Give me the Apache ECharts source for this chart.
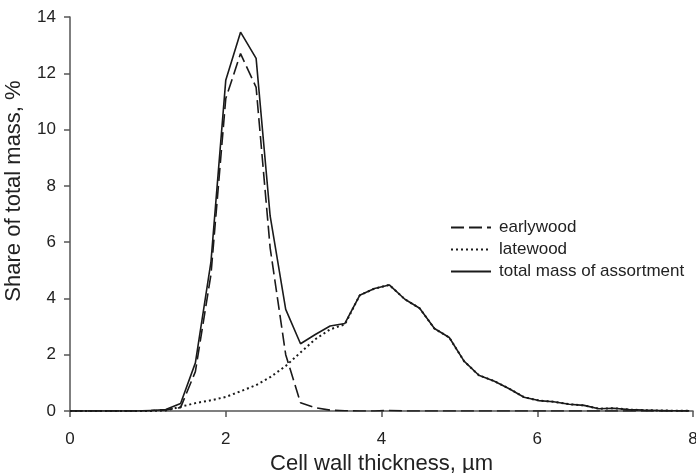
<!DOCTYPE html>
<html>
<head>
<meta charset="utf-8">
<script src="https://cdn.jsdelivr.net/npm/echarts@6/dist/echarts.min.js"></script>
<style>html,body{margin:0;padding:0;background:#fff}#c{width:696px;height:473px}</style>
</head>
<body>
<div id="c"></div>
<script>
const xs = [0, 0.85, 1.04, 1.23, 1.42, 1.61, 1.81, 2.00, 2.19, 2.39, 2.57, 2.77, 2.96, 3.15, 3.34, 3.53, 3.72, 3.91, 4.10, 4.30, 4.49, 4.68, 4.87, 5.06, 5.25, 5.45, 5.64, 5.83, 6.02, 6.21, 6.41, 6.60, 6.79, 6.98, 7.18, 7.37, 7.56, 7.75, 7.95];
const earlywood = [0, 0, 0.02, 0.04, 0.12, 1.4, 4.85, 11.1, 12.7, 11.5, 5.8, 2.0, 0.29, 0.12, 0.03, 0.01, 0, 0, 0.02, 0, 0, 0, 0, 0, 0, 0, 0, 0, 0, 0, 0, 0, 0, 0, 0, 0, 0, 0, 0];
const latewood = [0, 0, 0, 0.02, 0.15, 0.28, 0.38, 0.5, 0.7, 0.92, 1.2, 1.6, 2.08, 2.55, 2.9, 3.08, 4.11, 4.35, 4.48, 3.97, 3.65, 2.93, 2.61, 1.77, 1.27, 1.06, 0.79, 0.49, 0.37, 0.33, 0.24, 0.2, 0.08, 0.1, 0.05, 0.03, 0.02, 0.01, 0.01];
const total = [0, 0, 0.02, 0.05, 0.27, 1.71, 5.3, 11.75, 13.46, 12.53, 6.93, 3.61, 2.39, 2.72, 3.02, 3.11, 4.11, 4.35, 4.48, 3.97, 3.65, 2.93, 2.61, 1.77, 1.27, 1.06, 0.79, 0.49, 0.37, 0.33, 0.24, 0.2, 0.08, 0.1, 0.05, 0.03, 0.02, 0.01, 0.01];
const names = ['earlywood', 'latewood', 'total mass of assortment'];

const pair = arr => xs.map((x, i) => [x, arr[i]]);
const font = 'Liberation Sans, Arial, sans-serif';
const axisCol = '#555';
const lineCol = '#1a1a1a';

const chart = echarts.init(document.getElementById('c'));
chart.setOption({
  animation: false,
  backgroundColor: '#fff',
  grid: { left: 70, right: 3, top: 17, bottom: 62, containLabel: false, outerBoundsMode: 'none' },
  legend: {
    orient: 'vertical', left: 445, top: 214,
    itemWidth: 40, itemHeight: 14, itemGap: 5,
    itemStyle: { opacity: 0, borderWidth: 0 },
    textStyle: { fontFamily: font, fontSize: 17, color: '#222', padding: [0, 0, 0, 3] },
    data: names
  },
  xAxis: {
    type: 'value', min: 0, max: 8, interval: 2,
    name: 'Cell wall thickness, µm', nameLocation: 'middle', nameGap: 37,
    nameTextStyle: { fontFamily: font, fontSize: 22, color: '#222' },
    axisLine: { lineStyle: { color: axisCol, width: 1.5 } },
    axisTick: { show: true, length: 6, lineStyle: { color: axisCol, width: 1.5 } },
    axisLabel: { fontFamily: font, fontSize: 17, color: '#222', margin: 20 },
    splitLine: { show: false }
  },
  yAxis: {
    type: 'value', min: 0, max: 14, interval: 2,
    name: 'Share of total mass, %', nameLocation: 'middle', nameGap: 45,
    nameTextStyle: { fontFamily: font, fontSize: 22, color: '#222', padding: [0, 0, 0, 46] },
    axisLine: { show: true, lineStyle: { color: axisCol, width: 1.5 } },
    axisTick: { show: true, length: 6, lineStyle: { color: axisCol, width: 1.5 } },
    axisLabel: { fontFamily: font, fontSize: 17, color: '#222', margin: 14 },
    splitLine: { show: false }
  },
  series: [
    { name: names[0], type: 'line', data: pair(earlywood), symbol: 'none',
      lineStyle: { color: lineCol, width: 1.6, type: [13, 5] }, itemStyle: { color: lineCol } },
    { name: names[1], type: 'line', data: pair(latewood), symbol: 'none',
      lineStyle: { color: lineCol, width: 2, type: [2, 3] }, itemStyle: { color: lineCol } },
    { name: names[2], type: 'line', data: pair(total), symbol: 'none',
      lineStyle: { color: lineCol, width: 1.6, type: 'solid' }, itemStyle: { color: lineCol } }
  ]
});
</script>
</body>
</html>
